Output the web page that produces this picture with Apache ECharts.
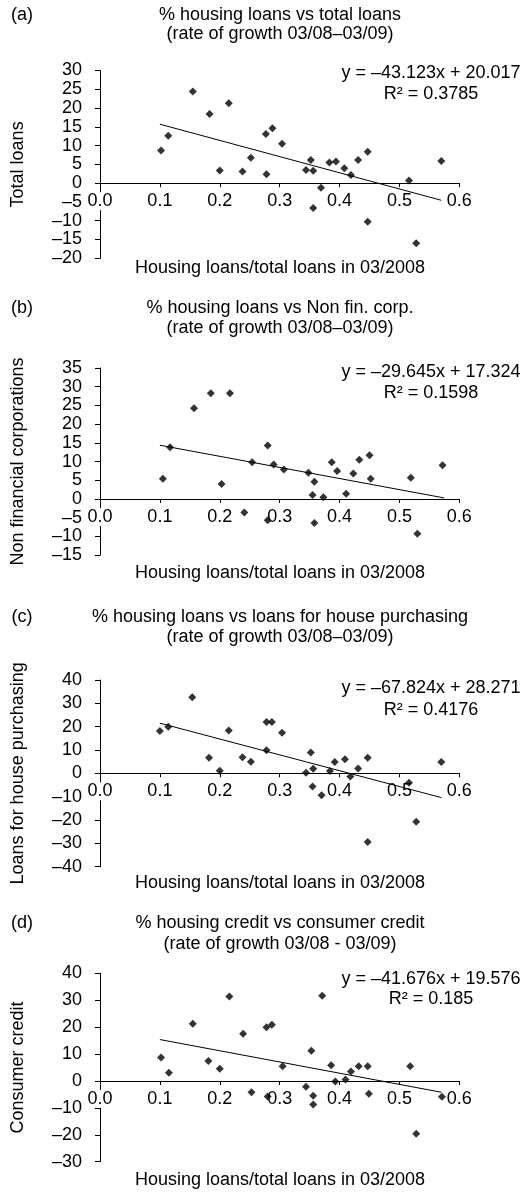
<!DOCTYPE html>
<html><head><meta charset="utf-8">
<script src="https://cdn.jsdelivr.net/npm/echarts@6/dist/echarts.min.js"></script>
<style>html,body{margin:0;padding:0;background:#fff}#c{width:526px;height:1193px}</style>
</head><body><div id="c"></div>
<script>
// ---------- DATA ----------
const panelLetters = ['(a)', '(b)', '(c)', '(d)'];
const titleLine1 = [
  '% housing loans vs total loans',
  '% housing loans vs Non fin. corp.',
  '% housing loans vs loans for house purchasing',
  '% housing credit vs consumer credit'
];
const titleLine2 = [
  '(rate of growth 03/08\u201303/09)',
  '(rate of growth 03/08\u201303/09)',
  '(rate of growth 03/08\u201303/09)',
  '(rate of growth 03/08 - 03/09)'
];
const yAxisNames = ['Total loans', 'Non financial corporations', 'Loans for house purchasing', 'Consumer credit'];
const xAxisName = 'Housing loans/total loans in 03/2008';
const equations = [
  'y = \u201343.123x + 20.017',
  'y = \u201329.645x + 17.324',
  'y = \u201367.824x + 28.271',
  'y = \u201341.676x + 19.576'
];
const rSquared = ['R\u00b2 = 0.3785', 'R\u00b2 = 0.1598', 'R\u00b2 = 0.4176', 'R\u00b2 = 0.185'];

// x-axis ticks (shared)
const xTickMin = 0, xTickMax = 0.6, xTickStep = 0.1;
// y-axis tick ranges per panel: [min, max, step]
const yTicksA = [-20, 30, 5];
const yTicksB = [-15, 35, 5];
const yTicksC = [-40, 40, 10];
const yTicksD = [-30, 40, 10];

const pointsA = [
  [0.102, 8.7], [0.114, 12.6], [0.155, 24.4], [0.183, 18.4], [0.200, 3.4], [0.215, 21.3],
  [0.238, 3.1], [0.252, 6.8], [0.277, 13.1], [0.278, 2.4], [0.288, 14.6], [0.304, 10.5],
  [0.344, 3.5], [0.352, 6.2], [0.356, 3.3], [0.356, -6.6], [0.369, -1.2], [0.383, 5.5],
  [0.394, 5.8], [0.408, 4.0], [0.419, 2.2], [0.431, 6.2], [0.447, 8.4], [0.447, -10.3],
  [0.516, 0.7], [0.528, -16.0], [0.570, 5.9]
];
const pointsB = [
  [0.105, 5.4], [0.117, 13.8], [0.157, 24.2], [0.185, 28.2], [0.203, 4.0], [0.217, 28.2],
  [0.241, -3.6], [0.254, 9.8], [0.280, 14.3], [0.280, -5.7], [0.290, 9.2], [0.307, 7.9],
  [0.348, 7.0], [0.355, 1.1], [0.358, 4.6], [0.358, -6.4], [0.373, 0.5], [0.387, 9.8],
  [0.396, 7.5], [0.411, 1.4], [0.423, 6.8], [0.433, 10.5], [0.450, 11.7], [0.452, 5.4],
  [0.519, 5.7], [0.530, -9.3], [0.572, 9.0]
];
const pointsC = [
  [0.100, 18.1], [0.114, 20.0], [0.154, 32.6], [0.182, 6.7], [0.200, 1.1], [0.215, 18.4],
  [0.238, 6.9], [0.252, 5.0], [0.278, 9.9], [0.278, 22.0], [0.287, 22.0], [0.304, 17.4],
  [0.344, 0.3], [0.352, 8.9], [0.356, 2.0], [0.355, -5.6], [0.370, -9.4], [0.384, 1.0],
  [0.392, 4.9], [0.409, 6.0], [0.418, -1.4], [0.431, 2.1], [0.447, 6.7], [0.447, -29.4],
  [0.516, -4.0], [0.528, -20.7], [0.570, 4.9]
];
const pointsD = [
  [0.102, 8.7], [0.115, 3.1], [0.155, 21.3], [0.181, 7.4], [0.200, 4.6], [0.216, 31.4],
  [0.239, 17.6], [0.253, -4.2], [0.278, 20.0], [0.287, 20.9], [0.280, -5.8], [0.305, 5.5],
  [0.344, -2.1], [0.353, 11.2], [0.356, -5.5], [0.356, -8.7], [0.371, 31.7], [0.386, 5.9],
  [0.393, -0.2], [0.410, 0.6], [0.419, 3.5], [0.432, 5.5], [0.447, 5.5], [0.449, -4.7],
  [0.518, 5.5], [0.528, -19.6], [0.571, -5.9]
];
// trend line end points (as drawn)
const trendA = [[0.10, 15.70], [0.57, -4.56]];
const trendB = [[0.10, 14.36], [0.575, 0.28]];
const trendC = [[0.10, 21.49], [0.57, -10.39]];
const trendD = [[0.10, 15.41], [0.57, -4.18]];

// ---------- LAYOUT ----------
const FONT = 'Liberation Sans, Arial, Helvetica, sans-serif';
const FS = 18;
const gridLeft = 100, gridWidth = 359.3;
const gridTops = [70.5, 367.9, 680, 973.4];
const gridHeights = [187.8, 187.3, 186.7, 188.3];
const titleY1 = [15, 308, 617, 923];
const titleY2 = [34, 328, 637, 944];
const eqY = [73.3, 371.7, 688.3, 979];
const r2Y = [94, 393.3, 710, 999];
const xNameY = [268.3, 573.3, 883.3, 1180];
const titleX = 280, eqX = 431, letterX = 22;

const yTicks = [yTicksA, yTicksB, yTicksC, yTicksD];
const points = [pointsA, pointsB, pointsC, pointsD];
const trends = [trendA, trendB, trendC, trendD];

const fmtY = v => (v < 0 ? '\u2013' + Math.abs(v) : String(v));
// the "0.0" label interrupts the y-axis line, as in the original
const fmtX = v => (v === 0 ? '{w|0.0}' : v.toFixed(1));
const textStyle = {color: '#000', fontFamily: FONT, fontSize: FS};

const grid = [], xAxis = [], yAxis = [], series = [], graphic = [];
function txt(text, x, y, align) {
  graphic.push({
    type: 'text', x: x, y: y, silent: true,
    style: {text: text, textAlign: align || 'center', textVerticalAlign: 'middle',
      font: FS + 'px ' + FONT, fill: '#000'}
  });
}
for (let i = 0; i < 4; i++) {
  const yMin = yTicks[i][0], yMax = yTicks[i][1];
  // shift the x axis (line, ticks, labels) up from the grid bottom to y = 0
  const zeroOffset = -gridHeights[i] * (0 - yMin) / (yMax - yMin);
  grid.push({left: gridLeft, width: gridWidth, top: gridTops[i], height: gridHeights[i], containLabel: false});
  xAxis.push({
    type: 'value', gridIndex: i, min: xTickMin, max: xTickMax, interval: xTickStep,
    position: 'bottom', offset: zeroOffset, z: 1,
    axisLine: {onZero: false, lineStyle: {color: '#000', width: 1}},
    axisTick: {show: true, inside: false, length: 4, lineStyle: {color: '#000'}},
    axisLabel: Object.assign({margin: 9, formatter: fmtX,
      rich: {w: Object.assign({backgroundColor: '#fff', padding: [0, 1]}, textStyle)}}, textStyle),
    splitLine: {show: false}
  });
  yAxis.push({
    type: 'value', gridIndex: i, min: yMin, max: yMax, interval: yTicks[i][2], z: 0,
    name: yAxisNames[i], nameLocation: 'middle', nameGap: 73,
    nameTextStyle: textStyle,
    axisLine: {show: true, onZero: false, lineStyle: {color: '#000', width: 1}},
    axisTick: {show: true, inside: false, length: 5, lineStyle: {color: '#000'}},
    axisLabel: Object.assign({margin: 18, formatter: fmtY}, textStyle),
    splitLine: {show: false}
  });
  series.push({
    type: 'line', xAxisIndex: i, yAxisIndex: i, data: trends[i], symbol: 'none',
    lineStyle: {color: '#000', width: 1}, silent: true, z: 2
  });
  series.push({
    type: 'scatter', xAxisIndex: i, yAxisIndex: i, data: points[i],
    symbol: 'diamond', symbolSize: 8, itemStyle: {color: '#000'}, z: 3
  });
  txt(panelLetters[i], letterX, titleY1[i]);
  txt(titleLine1[i], titleX, titleY1[i]);
  txt(titleLine2[i], titleX, titleY2[i]);
  txt(equations[i], eqX, eqY[i]);
  txt(rSquared[i], eqX, r2Y[i]);
  txt(xAxisName, titleX, xNameY[i]);
}

const chart = echarts.init(document.getElementById('c'), null, {renderer: 'canvas'});
chart.setOption({
  animation: false,
  backgroundColor: '#fff',
  grid: grid, xAxis: xAxis, yAxis: yAxis, series: series, graphic: graphic
});
</script>
</body></html>
